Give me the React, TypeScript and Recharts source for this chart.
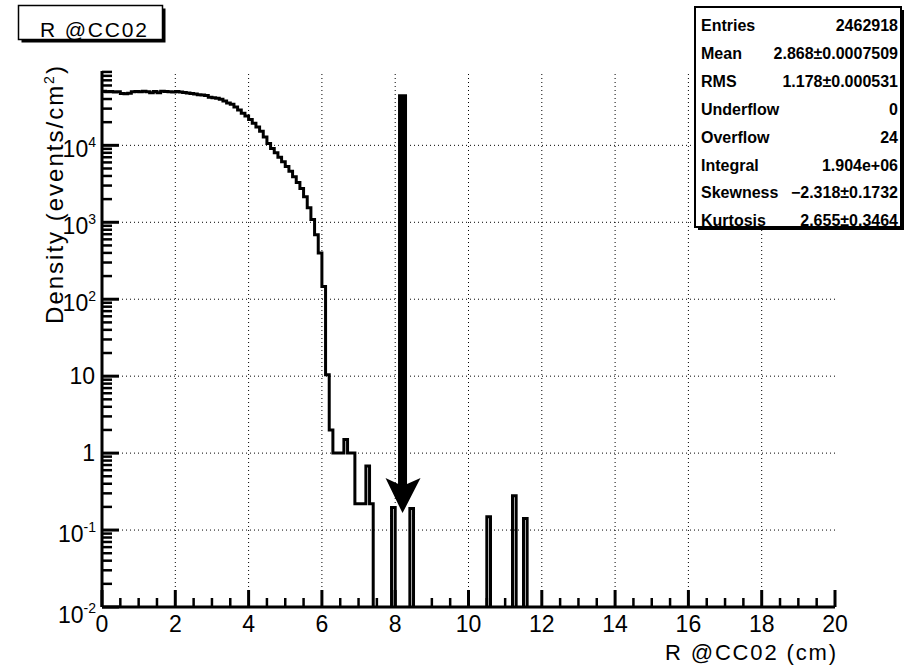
import React from 'react';
import { ComposedChart, Line, XAxis, YAxis, ReferenceLine, ReferenceDot, Label } from 'recharts';

// Histogram: R @CC02, 200 bins of 0.1 cm from 0 to 20 (density, events/cm^2)
const binWidth = 0.1;
const densityValues: number[] = [
  50500, 49800, 50200, 49500, 49700, 47200, 46800, 47500, 49600, 50100,
  49700, 50300, 49600, 48200, 50100, 48400, 50600, 50200, 49800, 49400,
  50000, 49300, 48600, 48000, 47200, 46500, 45600, 45000, 44400, 42200,
  41600, 40800, 39600, 37600, 35400, 34100, 31500, 28700, 26200, 24000,
  21700, 19400, 17300, 15300, 12800, 10600, 9100, 8000, 7000, 6100,
  5300, 4600, 3900, 3300, 2750, 2150, 1550, 1090, 690, 400,
  146, 10.4, 2.0, 1, 1, 1, 1.5, 1, 1, 0.22,
  0.22, 0.22, 0.68, 0.22, 0, 0, 0, 0, 0, 0.197,
  0, 0, 0, 0, 0.19, 0, 0, 0, 0, 0,
  0, 0, 0, 0, 0, 0, 0, 0, 0, 0,
  0, 0, 0, 0, 0, 0.149, 0, 0, 0, 0,
  0, 0, 0.279, 0, 0, 0.141, 0, 0, 0, 0,
  0, 0, 0, 0, 0, 0, 0, 0, 0, 0,
  0, 0, 0, 0, 0, 0, 0, 0, 0, 0,
  0, 0, 0, 0, 0, 0, 0, 0, 0, 0,
  0, 0, 0, 0, 0, 0, 0, 0, 0, 0,
  0, 0, 0, 0, 0, 0, 0, 0, 0, 0,
  0, 0, 0, 0, 0, 0, 0, 0, 0, 0,
  0, 0, 0, 0, 0, 0, 0, 0, 0, 0,
  0, 0, 0, 0, 0, 0, 0, 0, 0, 0,
];

const xMajorTicks = [0, 2, 4, 6, 8, 10, 12, 14, 16, 18, 20];
const xAllTicks = [
  0, 0.5, 1, 1.5, 2, 2.5, 3, 3.5, 4, 4.5, 5, 5.5, 6, 6.5, 7, 7.5, 8, 8.5, 9, 9.5,
  10, 10.5, 11, 11.5, 12, 12.5, 13, 13.5, 14, 14.5, 15, 15.5, 16, 16.5, 17, 17.5,
  18, 18.5, 19, 19.5, 20,
];
const yDecades = [0.01, 0.1, 1, 10, 100, 1000, 10000];
const yMantissas = [1, 2, 3, 4, 5, 6, 7, 8, 9];
const yAllTicks: number[] = [];
yDecades.forEach((d) => yMantissas.forEach((m) => yAllTicks.push(+(d * m).toPrecision(3))));
const yDomain: [number, number] = [0.01, 92500];
const xDomain: [number, number] = [0, 20];
const xGrid = [2, 4, 6, 8, 10, 12, 14, 16, 18];
const yGrid = [0.1, 1, 10, 100, 1000, 10000];

const statsRows: [string, string][] = [
  ['Entries', '2462918'],
  ['Mean', '2.868\u00b10.0007509'],
  ['RMS', '1.178\u00b10.000531'],
  ['Underflow', '0'],
  ['Overflow', '24'],
  ['Integral', '1.904e+06'],
  ['Skewness', '\u22122.318\u00b10.1732'],
  ['Kurtosis', '2.655\u00b10.3464'],
];

// arrow annotation (points to ~8.2 cm)
const arrowX = 8.2;
const arrowTop = 46000;
const arrowShaftEnd = 0.3;
const arrowTip = 0.166;

const FONT = '"Liberation Sans", Arial, Helvetica, sans-serif';

const lastValue = densityValues[densityValues.length - 1];
const data = densityValues
  .map((v, i) => ({ x: +(i * binWidth).toFixed(1), d: v > 0 ? v : 1e-4 }))
  .concat([{ x: 20, d: lastValue > 0 ? lastValue : 1e-4 }]);

const XTick = (props: any) => {
  const { x, y, payload } = props;
  const v = payload.value as number;
  const major = xMajorTicks.indexOf(v) >= 0;
  return (
    <g>
      <line x1={x} x2={x} y1={y} y2={y - (major ? 17 : 9)} stroke="#000" strokeWidth={major ? 3 : 2.5} />
      {major && (
        <text x={x} y={y + 25} textAnchor="middle" fontSize={23} fontFamily={FONT} fill="#000" stroke="none">
          {v}
        </text>
      )}
    </g>
  );
};

const YTick = (props: any) => {
  const { x, y, payload } = props;
  const v = payload.value as number;
  const e = Math.round(Math.log10(v));
  const major = Math.abs(v - Math.pow(10, e)) / Math.pow(10, e) < 1e-6;
  let label: React.ReactNode = null;
  if (major) {
    if (e === 0 || e === 1) {
      label = (
        <text x={x - 7} y={y + 8} textAnchor="end" fontSize={23} fontFamily={FONT} fill="#000" stroke="none">
          {e === 0 ? '1' : '10'}
        </text>
      );
    } else {
      const base = e === -2 ? y + 16 : y + 12;
      label = (
        <text x={x - 6} y={base} textAnchor="end" fontSize={23} fontFamily={FONT} fill="#000" stroke="none">
          10
          <tspan dy={-10} fontSize={14}>{e < 0 ? '-' + Math.abs(e) : String(e)}</tspan>
        </text>
      );
    }
  }
  return (
    <g>
      <line x1={x} x2={x + (major ? 17 : 10)} y1={y} y2={y} stroke="#000" strokeWidth={major ? 3 : 2.5} />
      {label}
    </g>
  );
};

const ArrowHead = (props: any) => {
  const { cx, cy } = props;
  if (cx == null || cy == null) return null;
  const pts = [
    [cx, cy],
    [cx + 18, cy - 35],
    [cx, cy - 27],
    [cx - 17, cy - 35],
  ]
    .map((p) => p.join(','))
    .join(' ');
  return <polygon points={pts} fill="#000" />;
};

export default function App() {
  return (
    <div style={{ position: 'absolute', left: 0, top: 0, width: 907, height: 671, background: '#fff' }}>
      <ComposedChart
        width={907}
        height={671}
        data={data}
        margin={{ top: 71, right: 72, bottom: 0, left: 0 }}
        style={{ position: 'absolute', left: 0, top: 0 }}
      >
        <XAxis
          xAxisId="x"
          dataKey="x"
          type="number"
          domain={xDomain}
          ticks={xAllTicks}
          interval={0}
          height={64}
          tickSize={0}
          tickMargin={0}
          tickLine={false}
          axisLine={{ stroke: '#000', strokeWidth: 3 }}
          tick={<XTick />}
        >
          <Label
            content={() => (
              <text x={836} y={660} textAnchor="end" fontSize={22} fontFamily={FONT} fill="#000" textLength={171} lengthAdjust="spacing">
                R @CC02 (cm)
              </text>
            )}
          />
        </XAxis>
        <XAxis
          xAxisId="top"
          orientation="top"
          type="number"
          domain={xDomain}
          height={0}
          tick={false}
          tickLine={false}
          axisLine={{ stroke: '#000', strokeWidth: 1.5 }}
        />
        <YAxis
          yAxisId="y"
          scale="log"
          type="number"
          domain={yDomain}
          allowDataOverflow
          ticks={yAllTicks}
          interval={0}
          width={102}
          tickSize={0}
          tickMargin={0}
          tickLine={false}
          axisLine={{ stroke: '#000', strokeWidth: 3 }}
          tick={<YTick />}
        >
          <Label
            content={() => (
              <text
                transform="translate(63,194) rotate(-90)"
                textAnchor="middle"
                fontSize={24}
                fontFamily={FONT}
                fill="#000"
                letterSpacing={2}
              >
                Density (events/cm<tspan dy={-9} fontSize={14}>2</tspan>
                <tspan dy={9}>)</tspan>
              </text>
            )}
          />
        </YAxis>
        <YAxis
          yAxisId="right"
          orientation="right"
          type="number"
          domain={[0, 1]}
          width={0}
          tick={false}
          tickLine={false}
          axisLine={{ stroke: '#dd0000', strokeWidth: 2 }}
        />
        {xGrid.map((v) => (
          <ReferenceLine key={'gx' + v} xAxisId="x" yAxisId="y" x={v} stroke="#000" strokeWidth={1} strokeDasharray="1 3" />
        ))}
        {yGrid.map((v) => (
          <ReferenceLine key={'gy' + v} xAxisId="x" yAxisId="y" y={v} stroke="#000" strokeWidth={1} strokeDasharray="1 3" />
        ))}
        <Line
          xAxisId="x"
          yAxisId="y"
          type="stepAfter"
          dataKey="d"
          stroke="#000"
          strokeWidth={3}
          dot={false}
          activeDot={false}
          isAnimationActive={false}
        />
        <ReferenceLine
          xAxisId="x"
          yAxisId="y"
          segment={[
            { x: arrowX, y: arrowTop },
            { x: arrowX, y: arrowShaftEnd },
          ]}
          stroke="#000"
          strokeWidth={9}
        />
        <ReferenceDot xAxisId="x" yAxisId="y" x={arrowX} y={arrowTip} r={1} shape={<ArrowHead />} />
      </ComposedChart>
      <svg width={907} height={671} style={{ position: 'absolute', left: 0, top: 0, pointerEvents: 'none' }}>
        {/* title box */}
        <rect x={21.5} y={8.5} width={144} height={34} fill="#000" />
        <rect x={18.5} y={5.5} width={144} height={34} fill="#fff" stroke="#000" strokeWidth={1.5} />
        <text x={40} y={36.5} fontSize={21} fontFamily={FONT} fill="#000" textLength={107} lengthAdjust="spacing">
          R @CC02
        </text>
        {/* stats box */}
        <rect x={698} y={10} width={206} height={220} fill="#000" />
        <rect x={695} y={7} width={206} height={220} fill="#fff" stroke="#000" strokeWidth={2} />
        {statsRows.map(([k, v], i) => (
          <g key={k}>
            <text x={701} y={31 + i * 27.9} fontSize={16} fontWeight="bold" fontFamily={FONT} fill="#000">
              {k}
            </text>
            <text x={898} y={31 + i * 27.9} textAnchor="end" fontSize={16} fontWeight="bold" fontFamily={FONT} fill="#000">
              {v}
            </text>
          </g>
        ))}
      </svg>
    </div>
  );
}
